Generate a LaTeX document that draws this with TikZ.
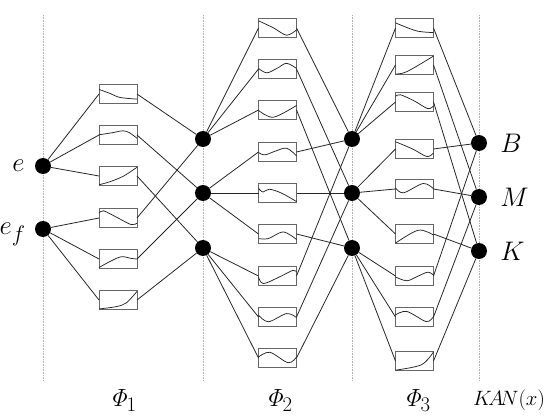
\documentclass[tikz,border=0pt]{standalone}
\usepackage{tikz}
\usetikzlibrary{positioning}

% one B-spline box with its activation curve (curve points in box units)
\newcommand{\kanbox}[3]{%
  \node[spline] (#1) at (#2) {};
  \draw[fn, shift={(#1.north west)}, x=38pt, y=-19pt] plot[smooth, tension=0.55] coordinates {#3};
}

\begin{document}
\begin{tikzpicture}[
    x=1pt, y=-1pt,
    neuron/.style={circle, fill=black, minimum size=16pt, inner sep=0pt},
    spline/.style={draw=black!60, fill=white, line width=0.9pt, minimum width=38pt, minimum height=19pt, inner sep=0pt, outer sep=0pt},
    link/.style={black!85, line width=0.8pt},
    fn/.style={black!85, line width=0.75pt},
    guide/.style={gray!60, densely dotted, line width=0.6pt},
    lbl/.style={font=\Huge, scale=1.08, inner sep=0pt, text depth=0pt},
    layerlbl/.style={font=\Huge, inner sep=0pt, text depth=0pt}
]
    \useasboundingbox (0,0) rectangle (550,417);

    % Layer guides
    \foreach \x in {43,203,352,479}
        \draw[guide] (\x,15) -- (\x,380);

    % Neurons
    \node[neuron] (x1) at (43,166) {};
    \node[neuron] (x2) at (43,229) {};
    \foreach \i/\y in {1/139,2/193,3/248} {
        \node[neuron] (h\i) at (203,\y) {};
        \node[neuron] (g\i) at (352,\y) {};
    }
    \node[neuron] (y1) at (479,143) {};
    \node[neuron] (y2) at (479,197) {};
    \node[neuron] (y3) at (479,251) {};

    % Phi_1 splines
    \kanbox{a1}{118,94}{(0,.26) (.29,.47) (.55,.68) (1,.77)}
    \kanbox{a2}{118,135}{(0,.49) (.35,.38) (.63,.28) (.8,.38) (1,.67)}
    \kanbox{a3}{118,176}{(0,.96) (.29,.8) (.65,.5) (1,.04)}
    \kanbox{a4}{118,218}{(0,.25) (.12,.12) (.5,.5) (.85,.85) (1,.77)}
    \kanbox{a5}{118,259}{(0,.95) (.3,.62) (.59,.38) (.85,.47) (1,.5)}
    \kanbox{a6}{118,300}{(0,.97) (.45,.85) (.72,.65) (1,.05)}

    % Phi_2 splines
    \kanbox{b1}{277.5,28}{(0,.12) (.4,.5) (.74,.88) (1,.6)}
    \kanbox{b2}{277.5,69}{(0,.47) (.22,.7) (.5,.45) (.74,.2) (1,.47)}
    \kanbox{b3}{277.5,110}{(0,.52) (.39,.88) (1,.26)}
    \kanbox{b4}{277.5,152}{(0,.53) (.17,.65) (.45,.45) (.74,.3) (1,.7)}
    \kanbox{b5}{277.5,193}{(0,.26) (.12,.45) (.28,.3) (.6,.5) (1,.95)}
    \kanbox{b6}{277.5,234}{(0,.74) (.26,.74) (.65,.39) (1,.79)}
    \kanbox{b7}{277.5,276}{(0,.55) (.13,.9) (.55,.55) (.91,.2) (1,.3)}
    \kanbox{b8}{277.5,317}{(0,.4) (.26,.75) (.74,.32) (1,.53)}
    \kanbox{b9}{277.5,358}{(0,.45) (.3,.2) (.78,.75) (1,.45)}

    % Phi_3 splines
    \kanbox{c1}{414.5,28}{(0,.23) (.55,.65) (1,.74)}
    \kanbox{c2}{414.5,65}{(0,.97) (.3,.85) (1,.03)}
    \kanbox{c3}{414.5,102}{(0,.2) (.13,.12) (.5,.45) (.85,.85) (1,.7)}
    \kanbox{c4}{414.5,149}{(0,.12) (.45,.5) (.83,.9) (1,.7)}
    \kanbox{c5}{414.5,189}{(0,.44) (.21,.7) (.73,.21) (1,.49)}
    \kanbox{c6}{414.5,234}{(0,.98) (.6,.3) (1,.56)}
    \kanbox{c7}{414.5,276}{(0,.55) (.3,.75) (.6,.5) (.85,.3) (1,.45)}
    \kanbox{c8}{414.5,317}{(0,.39) (.3,.21) (.81,.74) (1,.47)}
    \kanbox{c9}{414.5,361}{(0,.98) (.68,.7) (1,.02)}

    % Connections
    \foreach \j in {1,...,6} {
        \pgfmathtruncatemacro{\src}{(\j-1)/3+1}
        \pgfmathtruncatemacro{\dst}{mod(\j-1,3)+1}
        \draw[link] (x\src) -- (a\j.west);
        \draw[link] (a\j.east) -- (h\dst);
    }
    \foreach \j in {1,...,9} {
        \pgfmathtruncatemacro{\src}{(\j-1)/3+1}
        \pgfmathtruncatemacro{\dst}{mod(\j-1,3)+1}
        \draw[link] (h\src) -- (b\j.west);
        \draw[link] (b\j.east) -- (g\dst);
        \draw[link] (g\src) -- (c\j.west);
        \draw[link] (c\j.east) -- (y\dst);
    }

    % Labels
    \node[lbl, left=10pt of x1] (le) {$e$};
    \node[lbl, left=9pt of x2] (lef) {$e_f$};
    \node[lbl, right=13pt of y1] (lb) {$B$};
    \node[lbl, right=13pt of y2] (lm) {$M$};
    \node[lbl, right=13pt of y3] (lk) {$K$};
    \node[layerlbl] (phi1) at (123,398) {$\mathit{\Phi}_1$};
    \node[layerlbl] (phi2) at (279,398) {$\mathit{\Phi}_2$};
    \node[layerlbl] (phi3) at (417,398) {$\mathit{\Phi}_3$};
    \node[layerlbl, font=\huge] (kan) at (509,398) {$K\!A\!N(x)$};
\end{tikzpicture}
\end{document}
